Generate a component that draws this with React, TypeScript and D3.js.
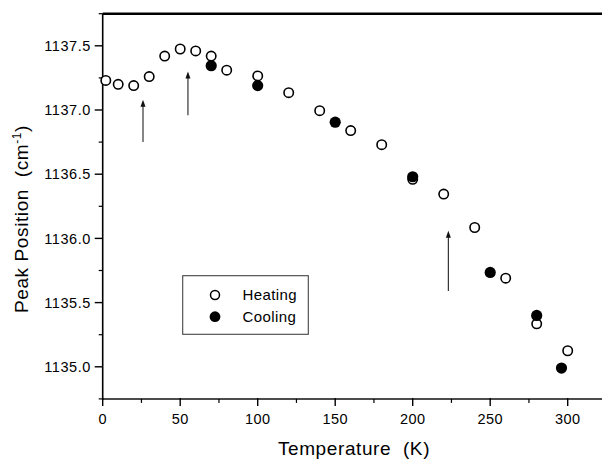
import React from "react";
import * as d3 from "d3";

const heatingT = [2, 10, 20, 30, 40, 50, 60, 70, 80, 100, 120, 140, 160, 180, 200, 220, 240, 260, 280, 300];
const heatingP = [1137.23, 1137.2, 1137.19, 1137.26, 1137.42, 1137.475, 1137.46, 1137.42, 1137.31, 1137.265, 1137.135, 1136.995, 1136.84, 1136.73, 1136.46, 1136.345, 1136.085, 1135.69, 1135.335, 1135.125];
const coolingT = [70, 100, 150, 200, 250, 280, 296];
const coolingP = [1137.345, 1137.19, 1136.905, 1136.48, 1135.735, 1135.4, 1134.99];
const xTicks = [0, 50, 100, 150, 200, 250, 300];
const xMinor = [25, 75, 125, 175, 225, 275, 325];
const yTicks = [1135.0, 1135.5, 1136.0, 1136.5, 1137.0, 1137.5];
const yMinor = [1134.75, 1135.25, 1135.75, 1136.25, 1136.75, 1137.25, 1137.75];
// arrows: [temperature, from value, to value (tip)]
const arrowT = [26, 55, 223];
const arrowFrom = [1136.75, 1136.96, 1135.59];
const arrowTo = [1137.08, 1137.3, 1136.06];

export default function App() {
  const x = d3.scaleLinear().domain([0, 325]).range([102.7, 606.45]);
  const y = d3.scaleLinear().domain([1134.75, 1137.75]).range([398.9, 13.7]);
  const font = "'Liberation Sans', Arial, Helvetica, sans-serif";
  const x0 = x(0);
  const yb = y(1134.75);
  const yt = y(1137.75);
  return (
    <svg width={602} height={460} style={{ position: "absolute", left: 0, top: 0, background: "#fff" }} fontFamily={font}>
      <rect x={0} y={0} width={602} height={460} fill="#fff" />
      {/* frame */}
      <line x1={x0} x2={602} y1={yt} y2={yt} stroke="#000" strokeWidth={2.5} />
      <line x1={x0} x2={x0} y1={yb + 1} y2={yt} stroke="#000" strokeWidth={1.6} />
      <line x1={x0} x2={602} y1={yb} y2={yb} stroke="#111" strokeWidth={1.5} />
      {/* x ticks */}
      {xTicks.map((t) => (
        <g key={"xt" + t}>
          <line x1={x(t)} x2={x(t)} y1={yb - 1} y2={yb + 7} stroke="#000" strokeWidth={1.4} />
          <text x={x(t)} y={424} textAnchor="middle" fontSize={14.5} letterSpacing={0.4}>{t}</text>
        </g>
      ))}
      {xMinor.map((t) => (
        <line key={"xm" + t} x1={x(t)} x2={x(t)} y1={yb} y2={yb + 4} stroke="#000" strokeWidth={1.2} />
      ))}
      {/* y ticks */}
      {yTicks.map((v) => (
        <g key={"yt" + v}>
          <line x1={x0 - 8} x2={x0} y1={y(v)} y2={y(v)} stroke="#000" strokeWidth={1.4} />
          <text x={91} y={y(v) + 5.2} textAnchor="end" fontSize={14.5} letterSpacing={0.6}>{v.toFixed(1)}</text>
        </g>
      ))}
      {yMinor.map((v) => (
        <line key={"ym" + v} x1={x0 - 4} x2={x0} y1={y(v)} y2={y(v)} stroke="#000" strokeWidth={1.2} />
      ))}
      {/* axis titles */}
      <text x={354} y={455} textAnchor="middle" fontSize={19} letterSpacing={0.6} xmlSpace="preserve">{"Temperature  (K)"}</text>
      <text transform="translate(27.5,219) rotate(-90)" textAnchor="middle" fontSize={19} letterSpacing={0.6} xmlSpace="preserve">
        {"Peak Position  (cm"}
        <tspan dy={-7} fontSize={12}>-1</tspan>
        <tspan dy={7}>)</tspan>
      </text>
      {/* arrows */}
      {arrowT.map((t, i) => {
        const ax = x(t);
        const y1 = y(arrowFrom[i]);
        const y2 = y(arrowTo[i]);
        return (
          <g key={"ar" + i}>
            <line x1={ax} x2={ax} y1={y1} y2={y2 + 5} stroke="#222" strokeWidth={1.1} />
            <path d={`M${ax},${y2} L${ax - 2.5},${y2 + 7} L${ax + 2.5},${y2 + 7} Z`} fill="#111" />
          </g>
        );
      })}
      {/* data */}
      {heatingT.map((t, i) => (
        <circle key={"h" + i} cx={x(t)} cy={y(heatingP[i])} r={4.7} fill="#fff" stroke="#000" strokeWidth={1.6} />
      ))}
      {coolingT.map((t, i) => (
        <circle key={"c" + i} cx={x(t)} cy={y(coolingP[i])} r={5.6} fill="#000" />
      ))}
      {/* legend */}
      <rect x={182.7} y={275.7} width={125.6} height={58.6} fill="#fff" stroke="#444" strokeWidth={1.1} />
      <circle cx={215} cy={295} r={4.5} fill="#fff" stroke="#000" strokeWidth={1.5} />
      <circle cx={215} cy={316.7} r={5.4} fill="#000" />
      <text x={242.5} y={300.3} fontSize={15} letterSpacing={0.4}>Heating</text>
      <text x={242.5} y={322} fontSize={15} letterSpacing={0.4}>Cooling</text>
    </svg>
  );
}
